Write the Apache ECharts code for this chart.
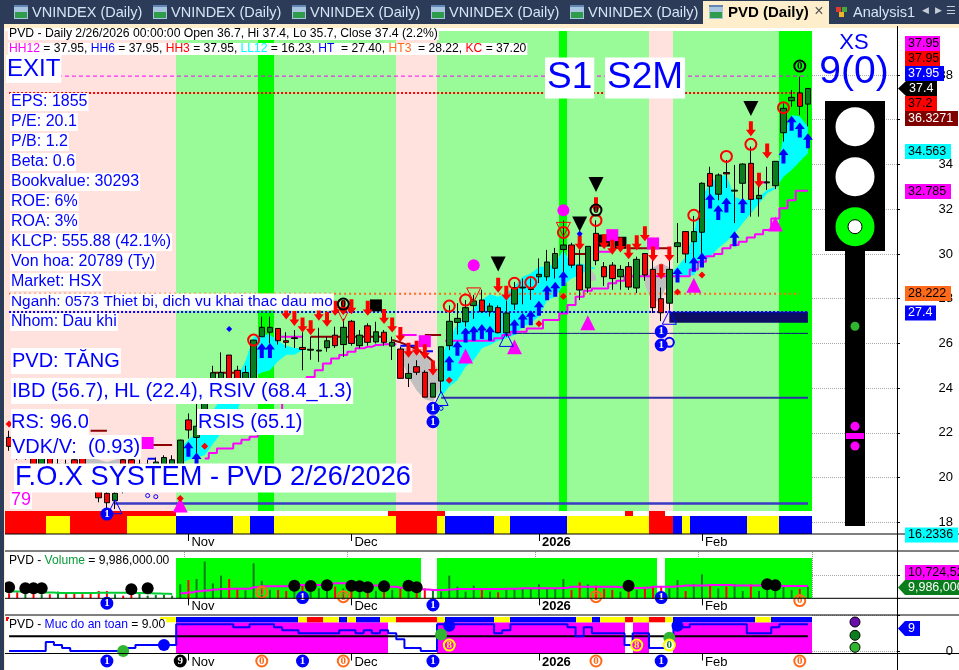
<!DOCTYPE html>
<html><head><meta charset="utf-8">
<script src="https://cdn.jsdelivr.net/npm/echarts@6/dist/echarts.min.js"></script>
<style>html,body{margin:0;padding:0;background:#fff}#c{width:959px;height:670px}</style>
</head><body><div id="c"></div>
<script>
// ---------- data ----------
const holidays = ['2026-01-01','2026-01-02','2026-02-16','2026-02-17','2026-02-18','2026-02-19','2026-02-20'];
const categories = [];
for (let d = new Date(Date.UTC(2025,9,2)); categories.length < 99; d = new Date(d.getTime()+864e5)) {
  const s = d.toISOString().slice(0,10), w = d.getUTCDay();
  if (w !== 0 && w !== 6 && !holidays.includes(s)) categories.push(s);
}
// [open, close, low, high]
const candles = [
[21.8,21.4,21.2,22.1],[21.6,21.0,20.8,21.9],[21.0,21.5,20.8,21.8],[21.4,20.6,20.4,21.6],[20.6,21.0,20.3,21.3],
[20.9,20.1,19.9,21.2],[20.2,20.6,20.0,20.9],[20.6,19.9,19.7,20.8],[20.8,20.2,20.0,21.1],[20.9,20.2,19.9,21.0],
[20.2,19.6,19.4,20.4],[19.7,19.1,18.9,20.0],[19.3,18.88,18.6,19.6],[18.97,19.3,18.6,19.7],[20.8,20.2,19.3,20.9],
[20.8,20.2,20.0,21.0],[20.2,20.6,20.0,20.8],[20.3,20.6,20.1,20.8],[20.4,20.7,20.2,20.9],[20.6,20.9,20.4,21.0],
[20.4,20.8,20.2,21.0],[20.56,21.68,20.4,21.7],[22.58,22.13,21.75,22.87],[21.8,22.3,20.8,23.3],[22.4,23.6,22.0,23.9],
[23.7,24.69,23.5,25.0],[24.4,24.7,24.2,25.6],[25.48,24.2,24.0,25.48],[24.8,24.0,23.8,25.0],[24.2,24.7,24.0,25.0],
[24.14,26.15,24.1,26.15],[26.3,26.72,26.3,27.2],[26.5,26.72,26.0,27.2],[26.67,26.12,25.95,26.67],[26.12,26.05,25.8,26.5],
[26.22,26.25,25.8,26.6],[25.82,25.73,24.8,26.5],[25.7,25.74,25.27,26.3],[25.66,25.7,25.18,26.7],[25.81,26.12,25.63,26.3],
[26.37,25.9,25.8,26.75],[25.95,26.72,25.4,27.1],[26.99,26.0,25.9,27.05],[25.9,26.37,25.78,26.6],[26.79,26.05,25.9,26.9],
[26.07,26.52,26.0,26.97],[26.5,26.05,25.9,26.6],[25.88,26.05,25.26,26.3],[25.75,24.44,24.44,25.85],[24.44,24.66,24.05,25.1],
[24.96,24.71,24.59,25.25],[24.71,23.6,23.6,24.8],[23.6,24.22,23.6,24.22],[24.32,25.85,23.8,25.85],[25.9,26.99,25.7,27.7],
[26.94,27.12,26.4,27.8],[26.97,27.6,26.75,27.94],[27.69,27.9,27.1,28.17],[27.94,27.42,27.36,28.4],[27.42,27.67,27.2,27.8],
[27.6,26.48,26.45,27.7],[26.47,27.36,26.3,27.9],[27.76,28.5,27.5,28.75],[28.48,28.52,27.75,28.9],[28.41,28.45,27.94,28.9],
[28.98,29.09,28.7,29.8],[28.98,29.64,28.8,30.18],[29.36,30.02,28.9,30.27],[30.2,30.4,29.0,31.5],[30.4,29.5,29.37,30.5],
[29.5,28.39,27.94,30.18],[28.48,30.34,28.27,30.34],[30.92,29.7,29.5,31.5],[29.43,28.98,28.57,29.64],[29.5,28.9,28.4,29.64],
[28.98,29.31,28.4,29.5],[29.43,28.52,28.39,29.64],[28.48,29.76,28.25,29.88],[30.02,29.06,28.8,30.02],[29.31,27.6,27.36,30.17],
[28.0,27.37,27.0,28.5],[27.8,29.31,27.5,30.17],[30.33,30.5,29.6,31.38],[31.0,30.0,29.6,31.0],[30.55,31.0,29.6,31.7],
[30.97,33.16,30.0,33.2],[33.6,33.03,32.6,33.9],[32.67,33.53,32.4,33.6],[33.64,33.58,32.95,34.2],[32.81,32.85,31.38,33.98],
[33.16,34.02,32.1,34.05],[34.05,32.44,31.67,34.8],[32.47,32.62,31.67,33.3],[33.18,33.22,32.86,33.9],[33.05,34.14,32.9,34.14],
[35.42,36.51,35.02,36.73],[36.85,37.0,36.58,37.33],[37.2,36.6,36.2,37.92],[36.7,37.4,35.7,37.4]];
const volumes = [4.3,5.2,4.3,4,3.5,3.5,5.8,4,4,3.5,4.6,6.3,6.3,3.5,2.3,2.9,4.6,2.3,2.9,2.9,2.3,
12.1,15.8,16.7,31.7,13,19.6,16.7,8.6,6.9,30.2,15,7.2,7.2,6.3,8.6,10.9,5.8,8.6,8.1,10.1,
8.6,8.6,6.3,8.6,6.3,6.3,7.2,8.6,5.2,8.1,8.6,6.3,5.8,19.6,10.1,5.8,10.9,
8.6,5.8,5.2,7.2,8.6,8.1,8.1,12.1,8.6,8.6,16.7,7.2,13.8,12.1,10.9,8.1,7.2,5.8,7.2,7.2,
8.1,9.2,10.1,8.6,15.8,6.3,12.1,20.7,10.9,8.6,10.1,12.1,6.3,12.1,6.3,8.6,10.9,10.1,7.2,8.1,9.986];
const volMaEarly = [5.8,5.8,5.5,5.2,5,5,4.6,4.6,4.6,4.6,4.6,4.8,4.8,4.8,4.8,4.6,4.6,4.4,4.2,4,3.8];
const volMaLate = [4.3,5,6,6.7,7.5,8,8.2,8.2,8.2,9.5,10.5,10.5,10.5,10.5,11.5,11.5,11.5,11.5,12.5,13,13,12.5,12,11,11,10,10,9.2,8.5,8,7.6,7.2,7.2,7.6,8,8,8,8,8,8,8.2,8.2,8.6,8.6,8.6,8.6,8.6,9,10,10,10,10,10,10,9.5,9,9,9.2,10,10,10,10.5,11,11,11,11.5,11.5,11.5,11,11,11,11,10.9,10.8,10.7,10.7,10.7,10.7];
const safety = [0,0,0,0,0,3,2,1,0,0,0,0,0,0,0,1,2,2,2,2,2,9,9,9,9,9,9,9,8,8,9,9,9,8,7,7,6,6,6,6,6,7,7,6,7,6,7,6,4,1,1,0,0,9,9,9,9,9,9,9,6,7,9,9,9,9,9,9,9,8,5,8,6,6,6,6,2,6,6,1,1,1,8,8,9,9,9,9,9,9,9,6,6,6,8,9,9,9,9];
const cloudUpper = {21:[21.3,21.7,22,22.3,23,23.5,24,24.5,25.2,26.3,26.4,26.4,26.1,25.9,25.8,25.8],
  53:[25.41,26.15,26.9,27.2,27.57,27.94,28.2,28.09,28.24,28.54,28.98,29.13,29.43,29.43,29.58,30.18,29.5,29.58,29.5,29.36],
  81:[29.13,29.43,29.88,30.92,32.56,33.16,33.45,33.53,32.56,32.41,32.41,32.56,32.86,33.0,35.39,36.21,36.14,35.69]};
const cloudLower = {21:[20.6,20.8,20.9,21,21.5,22,22.5,23,24,24.5,24.7,24.8,25.2,25.5,25.5,25.7],
  53:[23.62,24.07,24.36,24.96,25.26,25.78,25.93,26.12,26.23,26.38,26.75,26.9,27.2,27.94,28.09,28.61,28.9,29.06,29.28,29.28],
  81:[28.91,28.98,28.98,29.06,29.58,29.88,30.25,30.55,30.92,31.37,31.81,32.26,32.71,32.9,33.45,33.75,34.13,34.5]};
const grayUpper = {9:[20.9,20.9,20.8,20.7,20.8,20.9],48:[25.85,25.75,25.6,25.4,25.2,24.6],71:[29.5,29.0],78:[29.2,29.4,29.6,29.4]};
const grayLower = {9:[20.2,20.2,20.2,20.2,20.2,20.2],48:[25.4,24.5,23.9,23.5,23.4,24.1],71:[28.8,28.8],78:[28.6,27.8,28.0,28.9]};
const supportLine = {24:[20.86,21.1,21.3,21.3,21.53,21.7,21.83,22.2,22.6,23,23.4,23.8,24.2,24.5,24.8,25.1,25.33,25.48,25.63,25.78,25.85,25.93,25.96,25.96],
  59:[26.12,26.23,26.38,26.52,26.52,26.67,26.67,27.05,27.05,27.34,27.72,28.09,28.35,28.46,28.46,28.69,28.8,29,29,29,29,29,29,29,29,29.3,29.65,29.9,30,30.25,30.4,30.55,30.74,30.88,31.07,31.59,32.04,32.4,32.83,32.83]};
const darkRedLine = {10:[22.1,22.1,22.1],17:[21.46,21.46,21.46,21.46],25:[24.69,24.69,24.69,24.69],37:[26.3,26.3,26.3,26.3,26.3,26.3,26.3,26.3,26.3,26.3],47:[26.15,26.05,25.9,25.75,25.5,25.2],51:[26.38,26.38,26.38],69:[30,30,30],76:[30.25,30.25,30.25,30.25,30.25,30.25]};
const magentaLine = {33:[26.3,26.3,26.3,26.3],48:[26.38,26.38,26.38],72:[30.1,30.1,30.1],92:[33.2,33.2]};
const blueLine = {17:[20.85,20.85],48:[25.9,25.9,25.9],51:[25.65,25.65]};
const arrowsUp = [[86,32.37],[87,31.85],[88,32.19],[90,32.17],[89,30.68],[85,29.73],[84,29.54],[82,29.06],[95,34.38],[96,35.84],[97,35.54],[98,35.06],[68,28.9],[58,26.53],[59,26.45],[62,26.75],[63,27.02],[64,27.15],[65,27.57],[66,28.27],[67,28.42],[54,25.11],[55,25.78],[56,26.38],[57,26.45],[31,25.68],[32,25.68],[22,21.27],[23,20.79]];
const arrowsDown = [[91,35.6],[93,34.6],[92,33.3],[72,32.2],[70,30.5],[73,30.55],[74,30.3],[75,30.4],[76,30.1],[77,30.5],[78,30.9],[79,30.0],[81,30.0],[80,29.2],[60,28.6],[61,28.24],[47,26.82],[46,27.2],[48,26.4],[49,25.7],[50,25.78],[51,25.63],[52,24.9],[44,27.57],[42,27.64],[41,27.6],[40,27.57],[39,27.08],[38,27.35],[37,26.7],[36,26.82],[35,27.12],[34,27.4]];
const redRings = [[95,36.54],[88,34.36],[91,34.9],[84,31.73],[72,31.5],[68,30.96],[64,28.72],[62,28.69],[54,27.67],[56,27.94],[30,26.15]];
const blackDown = [[91,36.5],[72,33.1],[70,31.34],[60,29.55]];
const magentaDots = [[68,31.95],[57,29.5]];
const magentaTri = [[94,31.34],[62,25.85],[71,26.93],[84,28.6],[56,25.44],[21,18.78]];
const magentaSq = [[74,30.84],[79,30.47],[51,26.1],[17,21.55]];
const blackSq = [[73,30.6],[75,30.5],[45,27.7]];
const blueDots = [[70,30.9],[27,26.65]];
const redDiamonds = [[85,29.06],[65,26.88],[68,28.1],[82,28.3],[54,24.36],[24,21.4],[21,19.07],[0,22.4]];
const blueHollowTri = [[13,18.7],[53,23.54],[61,26.18],[81,27.17]];
const redHollowDown = [[68,31.1],[57,28.17],[41,27.3]];
const blueHollowRing = [[81,26.05]];
const blueSmallRing = [[18,19.15],[16.9,19.2],[53.2,23.1]];
const blackZero = [[97,38.4],[72,31.96],[41,27.76]];
const blueOneMain = [[52,23.1],[52,22.5],[12,18.37],[80,26.53],[80,25.93]];
const snowflakes = [[49,22.4],[13,17.39]];
const volBlackDots = [[0,9.5],[2,8.6],[3,8.6],[4,8.6],[15,7.8],[17,8.6],[35,10.9],[37,10.6],[39,11.2],[42,10.9],[43,10.4],[44,9.5],[46,10.4],[49,10.9],[50,9.5],[76,10.9],[93,12.1],[94,11.2]];
const volOne = [[12,-4.3],[36,0.6],[52,-5.8],[80,0.6]];
const volZero = [[31,5.2],[41,1.4],[72,1.4],[97,-2]];
const safBlueDots = [[19,2],[54,8.5],[82,8.5]];
const safGreenDots = [[14,0],[53,5.6],[81,4.5]];
const safYellow8 = [[54,2],[77,2]];
const safYellow0 = [[81,2]];
const safRowOne = [[12,-3.37],[36,-3.37],[52,-3.37],[80,-3.37]];
const safRowZero = [[31,-3.37],[41,-3.37],[72,-3.37],[97,-3.37]];
const safRowNine = [[21,-3.37]];
const levels = {hh:37.95, kc:37.2, ht3:28.22, ht:27.4};
const mainBandRuns = [['P',21],['L',10],['B',2],['L',15],['P',5],['L',15],['B',1],['L',10],['P',3],['L',13],['B',4]];
const rowARuns = [['R',21],['W',26],['R',7],['W',22],['R',1],['W',2],['R',2],['W',18]];
const rowBRuns = [['R',5],['Y',3],['R',7],['Y',6],['U',7],['Y',2],['U',3],['Y',15],['R',5],['Y',1],['U',6],['Y',2],['U',7],['Y',10],['R',3],['U',1],['Y',1],['U',7],['Y',4],['U',4]];
const rowCRuns = [['W',19],['Y',2],['U',15],['Y',1],['R',2],['Y',2],['U',1],['Y',1],['U',3],['Y',2],['R',5],['Y',1],['U',6],['Y',2],['U',8],['Y',2],['U',1],['Y',3],['R',1],['Y',2],['R',2],['Y',1],['U',10],['Y',2],['U',5]];
const volBandRuns = [['W',21],['B',30],['W',2],['B',27],['W',1],['B',18]];
const safBandRuns = [['W',21],['M',26],['W',6],['M',23],['W',1],['M',2],['W',3],['M',17]];
const infoLines = ['EPS: 1855','P/E: 20.1','P/B: 1.2','Beta: 0.6','Bookvalue: 30293','ROE: 6%','ROA: 3%','KLCP: 555.88 (42.1%)','Von hoa: 20789 (Ty)','Market: HSX','Nganh: 0573 Thiet bi, dich vu khai thac dau mo','Nhom: Dau khi'];

// ---------- styling / layout ----------
const FONT = '"Liberation Sans", Arial, sans-serif';
const PAL = {P:'#ffe1de',L:'#98fb98',B:'#00ff00',R:'#ff0000',Y:'#ffff00',U:'#0000ff',M:'#ff00ff'};
const CODES = Object.keys(PAL);
const UP = '#0a7d1c', DOWN = '#ff0000';
const L = 5, W = 807;
const monthTicks = categories.map((c,i)=> i>0 && c.slice(5,7)!==categories[i-1].slice(5,7) ? i : -1).filter(i=>i>=0);
const MN = {'11':'Nov','12':'Dec','02':'Feb'};
const monthLabel = (v)=>{const m=v.slice(5,7); return m==='01' ? '{b|'+v.slice(0,4)+'}' : (MN[m]||m);};

const grids=[], xAxes=[], yAxes=[], series=[];
function addGrid(top,height,left,width,xOpt,yOpt){
  const k=grids.length;
  grids.push({left,top,width,height,containLabel:false,show:false});
  xAxes.push(Object.assign({type:'category',gridIndex:k,data:categories,boundaryGap:true,show:false},xOpt||{}));
  yAxes.push(Object.assign({type:'value',gridIndex:k,min:0,max:1,show:false,splitLine:{show:false}},yOpt||{}));
  return k;
}
const tickFn = (i)=>monthTicks.includes(i);
const monthAxis = {show:true,axisLine:{show:false},
  axisTick:{show:true,alignWithLabel:true,interval:tickFn,length:7,lineStyle:{color:'#000'}},
  axisLabel:{show:true,interval:tickFn,formatter:monthLabel,align:'left',margin:2,padding:[0,0,0,3],color:'#000',fontSize:13,fontFamily:FONT,rich:{b:{fontWeight:'bold',fontSize:13,fontFamily:FONT,color:'#000'}}}};
const rightAxis = (min,max,interval,fmt)=>({show:true,position:'right',min,max,interval,
  axisLine:{show:false},axisTick:{show:true,length:3,lineStyle:{color:'#000'}},
  axisLabel:{show:!!fmt,align:'right',margin:56,color:'#000',fontSize:13,fontFamily:FONT,formatter:fmt},
  splitLine:{show:true,lineStyle:{color:'#aaa',type:'dotted'}}});

const gMainBand = addGrid(31,480,L,W);
const gPrice = addGrid(30.26,536.88,L,W,{},{min:16,max:40});
const gPriceR = addGrid(75,447.4,L+W,85,{},rightAxis(18,38,2,(v)=>String(v)));
const gRowA = addGrid(511,5,L,W);
const gRowB = addGrid(516,18,L,W,monthAxis);
const gVolBand = addGrid(558,40.3,L,W);
const gVol = addGrid(552,46.3,L,W,Object.assign({},monthAxis,{splitLine:{show:true,interval:tickFn,lineStyle:{color:'#999',type:'dotted'}}}),{min:0,max:40});
const gVolR = addGrid(575.15,23.15,L+W,85,{},rightAxis(0,20,20,null));
const gSafBand = addGrid(622.3,31.2,L,W,monthAxis);
const gRowC = addGrid(617,5.3,L,W);
const gSaf = addGrid(615.4,35.6,L,W,{},{min:0,max:12});
const gSafR = addGrid(615.4,35.6,L+W,85,{},rightAxis(0,12,12,(v)=>v===0?'0':''));

function expand(runs){const o=[];runs.forEach(([c,n])=>{for(let j=0;j<n;j++)o.push([o.length,CODES.indexOf(c)]);});return o;}
function strip(g,runs,z){
  series.push({type:'custom',xAxisIndex:g,yAxisIndex:g,z:z||1,silent:true,clip:false,
    data:expand(runs).filter(d=>d[1]>=0),encode:{x:0,y:1},
    renderItem:(p,api)=>{
      const i=api.value(0),c=api.value(1),cx=api.coord([i,0])[0],w=api.size([1,0])[0];
      const x0=Math.round(cx-w/2),x1=Math.round(cx+w/2);
      return {type:'rect',shape:{x:x0,y:p.coordSys.y,width:x1-x0,height:p.coordSys.height},style:{fill:PAL[CODES[c]]}};
    }});
}
strip(gMainBand,mainBandRuns);strip(gRowA,rowARuns);strip(gRowB,rowBRuns);
strip(gVolBand,volBandRuns);strip(gSafBand,safBandRuns);strip(gRowC,rowCRuns);

function pairs(sections){const o=[];let last=null;Object.keys(sections).map(Number).sort((a,b)=>a-b).forEach(s=>{
  if(last!==null) o.push([last+1,null]);
  sections[s].forEach((v,k)=>{o.push([s+k,v]);last=s+k;});});return o;}
function lineSeries(g,sections,color,width,z,extra){
  series.push(Object.assign({type:'line',xAxisIndex:g,yAxisIndex:g,data:pairs(sections),showSymbol:false,symbol:'none',z:z||3,silent:true,connectNulls:false,
    lineStyle:{color,width:width||2},animation:false},extra||{}));
}
function cloud(up,lo,color,key){
  const dl={};Object.keys(up).forEach(s=>{dl[s]=up[s].map((v,k)=>+(v-lo[s][k]).toFixed(3));});
  series.push({type:'line',xAxisIndex:gPrice,yAxisIndex:gPrice,stack:key,data:pairs(lo),symbol:'none',lineStyle:{width:0,opacity:0},z:2,silent:true});
  series.push({type:'line',xAxisIndex:gPrice,yAxisIndex:gPrice,stack:key,data:pairs(dl),symbol:'none',lineStyle:{width:0,opacity:0},areaStyle:{color,opacity:1},z:2,silent:true});
}
cloud(cloudUpper,cloudLower,'#00ffff','cy');
cloud(grayUpper,grayLower,'#c0c0c0','gr');
lineSeries(gPrice,supportLine,'#ff00ff',2,3,{step:'middle'});
lineSeries(gPrice,darkRedLine,'#8b0000',2,3);
lineSeries(gPrice,magentaLine,'#ff00ff',2,3);
lineSeries(gPrice,blueLine,'#0000ff',2,3);
const flat=(v,a,b)=>{const r=[];for(let i=a;i<=b;i++)r.push(v);return {[a]:r};};
lineSeries(gPrice,flat(18.85,13,98),'#3a3ac4',2.5,3);
lineSeries(gPrice,flat(23.57,53,98),'#3030a8',2,3);
lineSeries(gPrice,flat(26.45,62,98),'#101080',1,3);
lineSeries(gPrice,flat(27.17,81,98),'#0d0d66',11,3);
lineSeries(gPrice,flat(levels.hh,6,98),'#ff00ff',1,3,{lineStyle:{color:'#ff00ff',width:1,type:[4,3]}});
lineSeries(gPrice,flat(levels.kc,0,97),'#ff0000',2,3,{lineStyle:{color:'#ff0000',width:2,type:[2,2]}});
lineSeries(gPrice,flat(levels.ht3,0,97),'#ff6a1a',2,3,{lineStyle:{color:'#ff6a1a',width:2,type:[2,3]}});
lineSeries(gPrice,flat(levels.ht,0,98),'#0000ff',2,3,{lineStyle:{color:'#0000ff',width:2,type:[2,2]}});

series.push({type:'candlestick',xAxisIndex:gPrice,yAxisIndex:gPrice,data:candles,barWidth:6,z:4,silent:true,
  itemStyle:{color:UP,color0:DOWN,borderColor:'#000',borderColor0:'#000',borderWidth:1}});

function marks(g,data,symbol,size,fill,extra){
  series.push(Object.assign({type:'scatter',xAxisIndex:g,yAxisIndex:g,data,symbol,symbolSize:size,z:5,silent:true,clip:false,
    itemStyle:{color:fill,opacity:1}},extra||{}));
}
const ring=(c,w)=>({itemStyle:{color:'rgba(0,0,0,0)',borderColor:c,borderWidth:w||2,opacity:1}});
function digit(g,data,txt,fill,border,tc,size){
  marks(g,data,'circle',size||11,fill,{z:6,itemStyle:{color:fill,borderColor:border,borderWidth:2,opacity:1},
    label:{show:true,position:'inside',formatter:txt,color:tc,fontSize:11,fontWeight:'bold',fontFamily:'"Liberation Serif", serif'}});
}
const PATH_UP='path://M5 0L10 6L7 6L7 14L3 14L3 6L0 6Z', PATH_DN='path://M3 0L7 0L7 8L10 8L5 14L0 8L3 8Z';
marks(gPrice,blackSq,'rect',12,'#000');
marks(gPrice,magentaSq,'rect',12,'#ff00ff');
marks(gPrice,magentaTri,'triangle',15,'#ff00ff');
marks(gPrice,magentaDots,'circle',12,'#ff00ff');
marks(gPrice,arrowsUp,PATH_UP,[10,15],'#0000ff');
marks(gPrice,arrowsDown,PATH_DN,[10,15],'#ff0000');
marks(gPrice,redRings,'circle',11,'none',ring('#ff0000',2));
marks(gPrice,blackDown,'path://M0 0L10 0L5 10Z',15,'#000');
marks(gPrice,blueDots,'diamond',6,'#0000ff');
marks(gPrice,redDiamonds,'diamond',7,'#ff0000');
marks(gPrice,blueHollowTri,'triangle',14,'none',ring('#0000ff',1));
marks(gPrice,redHollowDown,'path://M0 0L10 0L5 10Z',14,'none',ring('#ff0000',1));
marks(gPrice,blueHollowRing,'circle',9,'none',ring('#0000ff',2));
marks(gPrice,blueSmallRing,'circle',4,'none',ring('#0000ff',1));
digit(gPrice,blackZero,'0','rgba(0,0,0,0)','#000','#000');
digit(gPrice,blueOneMain,'1','#0000ff','#0000ff','#fff');
marks(gPrice,snowflakes,'none',1,'#000',{label:{show:true,position:'inside',formatter:'❅',fontSize:17,color:'#fff',textBorderColor:'#0000ff',textBorderWidth:1,fontFamily:'DejaVu Sans'}});

series.push({type:'bar',xAxisIndex:gVol,yAxisIndex:gVol,barWidth:2,z:3,silent:true,
  data:volumes.map((v,i)=>({value:v,itemStyle:{color:candles[i][1]>=candles[i][0]?UP:DOWN}}))});
lineSeries(gVol,{0:volMaEarly},'#00cc33',2,4,{step:'middle'});
lineSeries(gVol,{21:volMaLate},'#ff00ff',2,4,{step:'middle'});
marks(gVol,volBlackDots,'circle',12,'#000');
digit(gVol,volOne,'1','#0000ff','#0000ff','#fff');
digit(gVol,volZero,'0','rgba(255,255,255,0)','#ff6a1a','#ff6a1a');

lineSeries(gSaf,flat(5,0,98),'#000',2,3);
lineSeries(gSaf,{0:safety},'#0000ff',2,4,{step:'middle'});
marks(gSaf,safBlueDots,'circle',12,'#0000ff');
marks(gSaf,safGreenDots,'circle',12,'#2fb52f');
digit(gSaf,safYellow8,'8','#ff00ff','#ffff00','#ffff00');
digit(gSaf,safYellow0,'0','#fff','#ffff00','#0a7d1c');
digit(gSaf,safRowOne,'1','#0000ff','#0000ff','#fff');
digit(gSaf,safRowZero,'0','#fff','#ff6a1a','#ff6a1a');
digit(gSaf,safRowNine,'9','#000','#000','#fff');

// ---------- chrome & annotation text ----------
const G=[]; const Z=100;
const rect=(x,y,w,h,fill,z)=>G.push({type:'rect',z:z||Z,silent:true,shape:{x,y,width:w,height:h},style:{fill}});
const hl=(y,x0,x1,c)=>G.push({type:'line',z:Z,silent:true,shape:{x1:x0,y1:y,x2:x1,y2:y},style:{stroke:c||'#000',lineWidth:1}});
const circ=(x,y,r,fill,stroke,z)=>G.push({type:'circle',z:z||Z,silent:true,shape:{cx:x,cy:y,r},style:{fill,stroke:stroke||null,lineWidth:1}});
function txt(x,y,text,size,color,o){o=o||{};
  G.push({type:'text',z:o.z||Z+1,silent:true,style:{x,y,text,fontSize:size,fontFamily:o.font||FONT,fontWeight:o.bold?'bold':'normal',fill:color,
    backgroundColor:o.bg===false?null:'#fff',padding:o.bg===false?0:(o.pad||[1,2]),verticalAlign:'middle',align:o.align||'left',rich:o.rich}});
}
// tab bar
const NAVY='#2c3c58', CREAM='#ffeecb', TABTXT='#d6e4f5';
rect(0,0,959,24,NAVY,90);rect(0,0,4,670,NAVY,90);
rect(4,24,955,4,CREAM,90);rect(4,24,1,646,CREAM,90);
rect(5,28,892,3,'#fff',90);
function tabIcon(x){rect(x,5,14,14,'#a9c4df',95);rect(x+1,12,12,6,'#2e9c4a',96);rect(x,5,14,2,'#5f86b5',96);}
[14,153,292,431,570].forEach(x=>{tabIcon(x);txt(x+18,12.5,'VNINDEX (Daily)',14.5,TABTXT,{bg:false,z:97});});
rect(703,1,126,27,CREAM,95);
tabIcon(709);txt(728,12.5,'PVD (Daily)',15,'#000',{bg:false,bold:true,z:97});
txt(819,12,'×',16,'#555',{bg:false,align:'center',z:97});
rect(836,7,5,5,'#e23b2e',96);rect(842,7,5,5,'#47a83c',96);rect(839,12,5,5,'#f0b429',96);
txt(853,12.5,'Analysis1',14.5,TABTXT,{bg:false,z:97});
txt(925,11,'◀',9,'#c4ccd8',{bg:false,align:'center',z:97});txt(938,11,'▶',9,'#c4ccd8',{bg:false,align:'center',z:97});txt(951,11,'☰',11,'#c4ccd8',{bg:false,align:'center',z:97});
// frame lines
[534,551,598.3,615,653.5].forEach(y=>hl(y,5,959));
G.push({type:'line',z:Z,silent:true,shape:{x1:897.5,y1:26,x2:897.5,y2:670},style:{stroke:'#000',lineWidth:1}});
rect(6,617,3,4,'#ff0000');
// headers
txt(8,34,'PVD - Daily 2/26/2026 00:00:00 Open 36.7, Hi 37.4, Lo 35.7, Close 37.4 (2.2%)',12.2,'#000',{pad:[0,1]});
const k=(c)=>({fill:c,fontSize:12.1,fontFamily:FONT});
txt(8,49,'{a|HH12}{z| = 37.95, }{b|HH6}{z| = 37.95, }{c|HH3}{z| = 37.95, }{d|LL12}{z| = 16.23, }{b|HT }{z| = 27.40, }{e|HT3 }{z| = 28.22, }{c|KC}{z| = 37.20}',12.1,'#000',
  {pad:[0,1],rich:{a:k('#ff00ff'),b:k('#0000ff'),c:k('#ff0000'),d:k('#00ffff'),e:k('#ff6a1a'),z:k('#000')}});
txt(8,561,'{z|PVD - }{g|Volume}{z| = 9,986,000.00}',12.1,'#000',{pad:[0,1],rich:{z:k('#000'),g:k('#0a9a3a')}});
txt(8,625,'{z|PVD - }{b|Muc do an toan}{z| = 9.00}',12.1,'#000',{pad:[0,1],rich:{z:k('#000'),b:k('#0000ff')}});
// side info
infoLines.forEach((s,i)=>txt(10,102+20*i,s,i===10?15.4:16,'#0000ff',{pad:[1,1]}));
txt(6,69,'EXIT',24,'#0000ff',{pad:[2,1]});
txt(545,78,'S1',37,'#0000ff',{pad:[2,2]});
txt(605,78,'S2M',37,'#0000ff',{pad:[2,2]});
txt(11,361,'PVD: TĂNG',20,'#0000ff',{pad:[3,1]});
txt(11,391,'IBD (56.7), HL (22.4), RSIV (68.4_1.3)',20,'#0000ff',{pad:[3,1]});
txt(11,422,'RS: 96.0',20,'#0000ff',{pad:[3,0]});
txt(197,422,'RSIS (65.1)',20,'#0000ff',{pad:[3,1]});
txt(11,447,'VDK/V:  (0.93)',20,'#0000ff',{pad:[2,1]});
txt(14,478,'F.O.X SYSTEM - PVD 2/26/2026',27.2,'#0000ff',{pad:[1,1]});
txt(10,500,'79',18,'#ff00ff',{pad:[0,1]});
// traffic light
txt(854,43,'XS',22,'#0000ff',{bg:false,align:'center'});
txt(854,72,'9(0)',39,'#0000ff',{bg:false,align:'center'});
rect(825,101,60,150,'#000');rect(845,250,20,276,'#000');
circ(855,126.7,19.5,'#fff');circ(855,176.7,19.5,'#fff');circ(855,226.7,19.5,'#00ff00');circ(855,226.7,7,'#fff','#000');
circ(855,326.3,4.5,'#2fb52f');circ(855,426.3,4.5,'#ff00ff');rect(846,433,18,6,'#ff00ff');circ(855,446,4.5,'#ff00ff');
circ(855,622,5,'#6a0dad','#000');circ(855,635.3,5,'#0a7d1c','#000');circ(855,647.3,5,'#2fb52f','#000');
// value tags
function tag(y,t,bg,fg,x0,x1,arrow){
  rect(x0,y-7.5,x1-x0,15,bg,Z+2);
  if(arrow) G.push({type:'polygon',z:Z+2,silent:true,shape:{points:[[898,y],[x0,y-7.5],[x0,y+7.5]]},style:{fill:bg}});
  txt(x0+3,y,t,12.5,fg,{bg:false,z:Z+3});
}
tag(43.5,'37.95','#ff00ff','#000',905,940);
tag(58.5,'37.95','#ff0000','#000',905,940);
tag(73.5,'37.95','#0000ff','#fff',905,944);
tag(88.5,'37.4','#000','#fff',906,937,true);
tag(103.5,'37.2','#ff0000','#000',905,937);
tag(118.5,'36.3271','#800000','#fff',905,958);
tag(151.5,'34.563','#00ffff','#000',905,951);
tag(191.5,'32.785','#ff00ff','#000',905,951);
tag(293.5,'28.222','#ff6a1a','#000',905,951);
tag(313,'27.4','#0000ff','#fff',905,936);
tag(535,'16.2336','#00ffff','#000',905,958);
tag(572.5,'10,724,52','#ff00ff','#000',905,959);
tag(587.5,'9,986,000','#0a7d1c','#fff',905,959,true);
tag(628.5,'9','#0000ff','#fff',905,920,true);

const chart = echarts.init(document.getElementById('c'),null,{renderer:'canvas'});
chart.setOption({animation:false,backgroundColor:'#fff',tooltip:{show:false},legend:{show:false},
  grid:grids,xAxis:xAxes,yAxis:yAxes,series,graphic:{elements:G}});
</script></body></html>
